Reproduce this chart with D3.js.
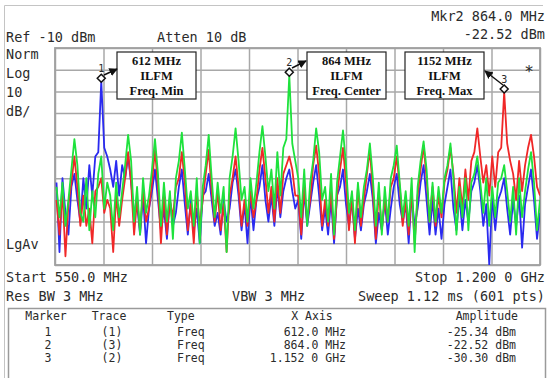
<!DOCTYPE html>
<html>
<head>
<meta charset="utf-8">
<script src="https://cdn.jsdelivr.net/npm/d3@7"></script>
<style>
  body { margin: 0; background: #fff; }
  text { font-family: 'DejaVu Sans Mono', monospace; fill: #2b2b2b; }
  .note text { font-family: 'Liberation Serif', 'Times New Roman', serif; font-weight: bold; fill: #111; }
</style>
</head>
<body>
<svg id="chart" width="550" height="381"></svg>
<script>
//////////// DATA ////////////
// sweep frequencies (MHz), one reading every 4 MHz
const freqs = d3.range(552, 1201, 4);

// trace amplitudes (dBm); harmonics every 36 MHz
const blue = [
  -72, -104, -70, -86, -96, -74, -68, -80, -90,
  -70, -84, -64, -78, -60, -58, -25.34, -56, -60,
  -66, -74, -62, -78, -64, -70, -60, -72, -86,
  -82, -96, -78, -100, -84, -76, -66, -80, -94,
  -84, -98, -80, -92, -86, -74, -66, -82, -96,
  -80, -94, -84, -100, -78, -76, -68, -80, -92,
  -86, -96, -80, -90, -84, -72, -66, -78, -94,
  -82, -100, -78, -94, -80, -74, -64, -80, -90,
  -78, -92, -74, -88, -76, -70, -66, -76, -84,
  -80, -98, -76, -92, -82, -72, -64, -78, -94,
  -84, -96, -80, -100, -78, -74, -66, -82, -92,
  -80, -98, -84, -94, -82, -76, -68, -80, -100,
  -86, -94, -80, -96, -84, -74, -68, -82, -90,
  -82, -100, -78, -92, -84, -72, -64, -80, -96,
  -80, -96, -84, -98, -82, -74, -66, -84, -94,
  -78, -94, -80, -90, -76, -72, -64, -76, -92,
  -82, -110, -78, -94, -80, -76, -70, -84, -96,
  -80, -92, -78, -102, -82, -74, -66, -80, -98,
  -86
];

const red = [
  -80, -96, -76, -106, -82, -72, -60, -74, -92,
  -78, -92, -84, -100, -76, -74, -70, -86, -80,
  -84, -104, -78, -92, -80, -70, -58, -72, -96,
  -80, -94, -76, -90, -84, -72, -57, -74, -100,
  -78, -96, -80, -88, -74, -70, -58, -72, -94,
  -82, -100, -76, -92, -80, -68, -57, -76, -90,
  -76, -94, -82, -104, -78, -70, -60, -74, -92,
  -80, -92, -76, -88, -80, -66, -56, -70, -86,
  -74, -90, -70, -86, -68, -64, -60, -66, -78,
  -78, -96, -74, -90, -80, -64, -55, -68, -92,
  -80, -92, -76, -98, -78, -66, -56, -72, -94,
  -78, -100, -74, -92, -80, -68, -57, -76, -98,
  -76, -94, -80, -90, -74, -70, -60, -74, -92,
  -80, -96, -76, -100, -78, -66, -55, -70, -90,
  -74, -92, -78, -88, -72, -66, -56, -68, -86,
  -70, -84, -66, -80, -62, -58, -47, -60, -72,
  -64, -78, -60, -74, -58, -56, -30.30, -54, -62,
  -68, -80, -62, -76, -64, -56, -50, -60, -74,
  -78
];

const green = [
  -74, -88, -72, -92, -80, -66, -52, -64, -86,
  -90, -70, -94, -76, -88, -68, -60, -84, -72,
  -78, -94, -72, -88, -76, -64, -50, -62, -90,
  -74, -96, -70, -86, -78, -66, -52, -68, -92,
  -72, -90, -76, -98, -70, -62, -49, -66, -84,
  -76, -92, -70, -100, -74, -64, -50, -70, -88,
  -72, -86, -74, -104, -70, -60, -47, -62, -80,
  -74, -90, -70, -84, -72, -58, -46, -60, -76,
  -66, -84, -58, -78, -56, -52, -22.52, -54, -62,
  -70, -88, -66, -92, -72, -62, -47, -58, -80,
  -74, -90, -68, -96, -72, -60, -48, -64, -86,
  -76, -94, -72, -88, -74, -66, -54, -70, -92,
  -72, -96, -74, -90, -70, -64, -55, -72, -88,
  -76, -92, -70, -104, -74, -62, -53, -66, -90,
  -72, -90, -74, -86, -70, -64, -54, -70, -96,
  -74, -88, -70, -94, -72, -68, -60, -72, -86,
  -70, -92, -74, -88, -72, -70, -64, -76, -90,
  -74, -96, -70, -88, -76, -66, -58, -72, -94,
  -80
];

// marker table
const markerNum = [1, 2, 3];
const markerTrace = ['(1)', '(3)', '(2)'];
const markerType = ['Freq', 'Freq', 'Freq'];
const markerFreq = [612, 864, 1152];
const markerXText = ['612.0 MHz', '864.0 MHz', '1.152 0 GHz'];
const markerAmp = [-25.34, -22.52, -30.30];

// annotation boxes
const noteLines = [
  ['612 MHz', 'ILFM', 'Freq. Min'],
  ['864 MHz', 'ILFM', 'Freq. Center'],
  ['1152 MHz', 'ILFM', 'Freq. Max']
];

//////////// LAYOUT ////////////
const plot = { left: 55, right: 540, top: 48, bottom: 265 };

const x = d3.scaleLinear().domain([550, 1200]).range([plot.left, plot.right]);
const y = d3.scaleLinear().domain([-110, -10]).range([plot.bottom, plot.top]);

const svg = d3.select('#chart');

// light outer screen frame
svg.append('path')
  .attr('d', 'M4.5,378 V5.5 H543')
  .attr('fill', 'none')
  .attr('stroke', '#c4c4c4')
  .attr('stroke-width', 1);

// graticule, 10 x 10 divisions
const gridStyle = sel => {
  sel.select('.domain').remove();
  sel.selectAll('.tick line').attr('stroke', '#a8a8a8').attr('stroke-width', 1.5);
};

svg.append('g')
  .attr('transform', `translate(0,${plot.bottom})`)
  .call(d3.axisBottom(x)
    .tickValues(d3.range(550, 1201, 65))
    .tickSize(-(plot.bottom - plot.top))
    .tickFormat(''))
  .call(gridStyle);

svg.append('g')
  .attr('transform', `translate(${plot.left},0)`)
  .call(d3.axisLeft(y)
    .tickValues(d3.range(-110, -9, 10))
    .tickSize(-(plot.right - plot.left))
    .tickFormat(''))
  .call(gridStyle);

svg.append('rect')
  .attr('x', plot.left).attr('y', plot.top)
  .attr('width', plot.right - plot.left).attr('height', plot.bottom - plot.top)
  .attr('fill', 'none').attr('stroke', '#a0a0a0').attr('stroke-width', 1.8);

// clip the traces to the graticule
svg.append('clipPath').attr('id', 'clip')
  .append('rect')
  .attr('x', plot.left).attr('y', plot.top)
  .attr('width', plot.right - plot.left).attr('height', plot.bottom - plot.top);

const line = d3.line()
  .x((d, i) => x(freqs[i]))
  .y(d => y(d));

const traces = [
  { values: blue, color: '#2a2af0' },
  { values: red, color: '#f02828' },
  { values: green, color: '#1ee23c' }
];

svg.append('g').attr('clip-path', 'url(#clip)')
  .selectAll('path')
  .data(traces)
  .enter()
  .append('path')
  .attr('d', t => line(t.values))
  .attr('fill', 'none')
  .attr('stroke', t => t.color)
  .attr('stroke-width', 1.8)
  .attr('stroke-linejoin', 'round');

//////////// MARKERS & NOTES ////////////
svg.append('defs').append('marker')
  .attr('id', 'arrow')
  .attr('viewBox', '0 0 10 10')
  .attr('refX', 9).attr('refY', 5)
  .attr('markerWidth', 6).attr('markerHeight', 6)
  .attr('orient', 'auto')
  .append('path')
  .attr('d', 'M0,0 L10,5 L0,10 z')
  .attr('fill', '#111');

const markers = svg.append('g');
markerFreq.forEach((f, i) => {
  const mx = x(f), my = y(markerAmp[i]) - 3;
  markers.append('path')
    .attr('d', `M${mx},${my - 4} L${mx + 4},${my} L${mx},${my + 4} L${mx - 4},${my} Z`)
    .attr('fill', '#fff')
    .attr('stroke', '#111')
    .attr('stroke-width', 1.5);
  markers.append('text')
    .attr('x', mx).attr('y', my - 6)
    .attr('text-anchor', 'middle')
    .style('font-size', '10px')
    .text(markerNum[i]);
});

// boxes: left edge, top, width, height
const boxes = [
  { x: 117, y: 52, w: 79, h: 47, from: [104, 75], to: [117, 69] },
  { x: 307, y: 52, w: 79, h: 47, from: [292, 68], to: [306, 61] },
  { x: 405, y: 52, w: 79, h: 47, from: [503, 85], to: [485, 71] }
];

const notes = svg.append('g').attr('class', 'note');
boxes.forEach((b, i) => {
  notes.append('rect')
    .attr('x', b.x).attr('y', b.y).attr('width', b.w).attr('height', b.h)
    .attr('fill', '#fff').attr('stroke', '#222').attr('stroke-width', 1.2);
  noteLines[i].forEach((s, j) => {
    notes.append('text')
      .attr('x', b.x + b.w / 2).attr('y', b.y + 13 + j * 15)
      .attr('text-anchor', 'middle')
      .style('font-size', '12.5px')
      .text(s);
  });
  notes.append('line')
    .attr('x1', b.from[0]).attr('y1', b.from[1])
    .attr('x2', b.to[0]).attr('y2', b.to[1])
    .attr('stroke', '#111').attr('stroke-width', 1.4)
    .attr('marker-end', 'url(#arrow)');
});

svg.append('text')
  .attr('x', 529).attr('y', 77)
  .attr('text-anchor', 'middle')
  .style('font-size', '16px')
  .text('*');

//////////// SCREEN ANNOTATIONS ////////////
const label = (tx, ty, s, anchor = 'start', size = 13.5) =>
  svg.append('text')
    .attr('x', tx).attr('y', ty)
    .attr('text-anchor', anchor)
    .style('font-size', size + 'px')
    .text(s);

label(545, 21, 'Mkr2 864.0 MHz', 'end');
label(545, 39, '-22.52 dBm', 'end');
label(6, 42, 'Ref -10 dBm');
label(157, 42, 'Atten 10 dB');
label(6, 59, 'Norm');
label(6, 78, 'Log');
label(6, 97, '10');
label(6, 116, 'dB/');
label(6, 249, 'LgAv');
label(6, 282, 'Start 550.0 MHz');
label(545, 282, 'Stop 1.200 0 GHz', 'end');
label(6, 301, 'Res BW 3 MHz');
label(232, 301, 'VBW 3 MHz');
label(545, 301, 'Sweep 1.12 ms (601 pts)', 'end');

// marker table box
svg.append('path')
  .attr('d', 'M8.5,378 V308.5 H545.5 V378')
  .attr('fill', 'none')
  .attr('stroke', '#9a9a9a')
  .attr('stroke-width', 1.5);

const tbl = 11.5;
label(46, 320, 'Marker', 'middle', tbl);
label(109, 320, 'Trace', 'middle', tbl);
label(167, 320, 'Type', 'start', tbl);
label(312, 320, 'X Axis', 'middle', tbl);
label(518, 320, 'Amplitude', 'end', tbl);

markerNum.forEach((m, i) => {
  const ry = 336 + i * 13;
  label(48, ry, m, 'middle', tbl);
  label(112, ry, markerTrace[i], 'middle', tbl);
  label(177, ry, markerType[i], 'start', tbl);
  label(346, ry, markerXText[i], 'end', tbl);
  label(516, ry, markerAmp[i].toFixed(2) + ' dBm', 'end', tbl);
});
</script>
</body>
</html>
